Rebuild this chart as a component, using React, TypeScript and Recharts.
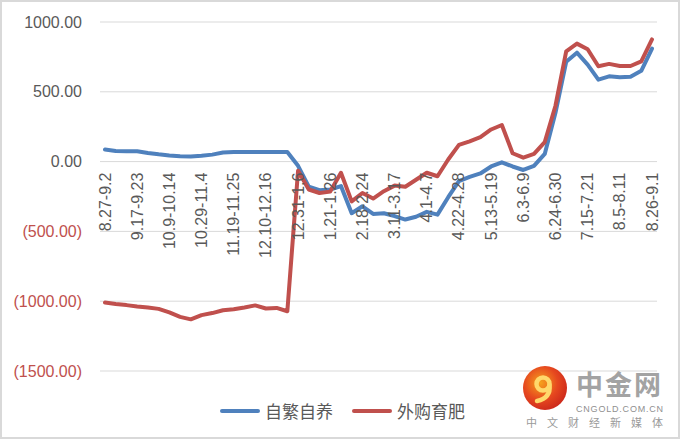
import React from 'react';
import { LineChart, Line, XAxis, YAxis, CartesianGrid, Legend } from 'recharts';

const weeks = [
  '8.27-9.2', '9.3-9.9', '9.10-9.16', '9.17-9.23', '9.24-9.30', '10.1-10.8',
  '10.9-10.14', '10.15-10.21', '10.22-10.28', '10.29-11.4', '11.5-11.11', '11.12-11.18',
  '11.19-11.25', '11.26-12.2', '12.3-12.9', '12.10-12.16', '12.17-12.23', '12.24-12.30',
  '12.31-1.6', '1.7-1.13', '1.14-1.20', '1.21-1.26', '1.27-2.2', '2.3-2.17',
  '2.18-2.24', '2.25-3.3', '3.4-3.10', '3.11-3.17', '3.18-3.24', '3.25-3.31',
  '4.1-4.7', '4.8-4.14', '4.15-4.21', '4.22-4.28', '4.29-5.5', '5.6-5.12',
  '5.13-5.19', '5.20-5.26', '5.27-6.2', '6.3-6.9', '6.10-6.16', '6.17-6.23',
  '6.24-6.30', '7.1-7.7', '7.8-7.14', '7.15-7.21', '7.22-7.28', '7.29-8.4',
  '8.5-8.11', '8.12-8.18', '8.19-8.25', '8.26-9.1',
];

const selfBred = [
  86, 76, 75, 74, 62, 52, 44, 38, 36, 42, 50, 65, 68, 68, 68, 68, 68, 68,
  -30, -180, -205, -200, -175, -370, -320, -375, -370, -390, -415, -395, -360, -380,
  -255, -140, -110, -85, -35, -5, -35, -60, -30, 55, 350, 715, 780, 695, 587, 611, 605, 608, 650, 810,
];

const purchased = [
  -1010, -1020, -1028, -1038, -1045, -1055, -1080, -1112, -1130, -1100, -1085, -1065, -1058, -1045, -1030, -1052, -1048, -1072,
  -65, -200, -225, -215, -80, -285, -225, -265, -212, -172, -180, -130, -80, -105,
  15, 120, 145, 175, 230, 262, 60, 28, 55, 140, 400, 790, 845, 805, 683, 700, 685, 685, 718, 875,
];

const seriesNames = ['自繁自养', '外购育肥'];
const seriesColors = ['#4F81BD', '#C0504D'];
const yTicks = [-1500, -1000, -500, 0, 500, 1000];
const yDomain = [-1500, 1000];

const data = weeks.map((w, i) => ({ week: w, selfBred: selfBred[i], purchased: purchased[i] }));

const W = 680;
const H = 439;
const M = { top: 22, right: 23, bottom: 67, left: 0 };
const X_AXIS_H = 1;
const PLOT_H = H - M.top - M.bottom - X_AXIS_H;
const zeroY = M.top + PLOT_H * (yDomain[1] / (yDomain[1] - yDomain[0]));

const fmt = (v: number) => (v < 0 ? `(${Math.abs(v).toFixed(2)})` : v.toFixed(2));

const YTick = (props: any) => {
  const { x, y, payload } = props;
  const v = payload.value as number;
  return (
    <text
      x={x}
      y={y}
      textAnchor="end"
      dominantBaseline="central"
      fill={v < 0 ? '#C0504D' : '#595959'}
      fontSize={16}
      fontFamily="Liberation Sans"
    >
      {fmt(v)}
    </text>
  );
};

const XTick = (props: any) => {
  const { x, payload } = props;
  return (
    <text
      x={0}
      y={0}
      transform={`translate(${x},${zeroY + 11}) rotate(-90)`}
      textAnchor="end"
      dominantBaseline="central"
      fill="#595959"
      fontSize={16}
      fontFamily="Liberation Sans"
    >
      {payload.value}
    </text>
  );
};

const LegendContent = () => (
  <div
    style={{
      display: 'flex',
      justifyContent: 'center',
      alignItems: 'center',
      gap: 19,
      fontFamily: '"Noto Sans CJK SC"',
      fontSize: 17,
      color: '#595959',
      paddingLeft: 5,
    }}
  >
    {seriesNames.map((n, i) => (
      <div key={n} style={{ display: 'flex', alignItems: 'center' }}>
        <div style={{ width: 40, height: 4, borderRadius: 2, background: seriesColors[i], marginRight: 5 }} />
        <span>{n}</span>
      </div>
    ))}
  </div>
);

export default function App() {
  return (
    <div style={{ position: 'fixed', left: 0, top: 0, width: W, height: H, background: '#fff' }}>
      <LineChart width={W} height={H} data={data} margin={M}>
        <CartesianGrid vertical={false} stroke="#D9D9D9" />
        <XAxis
          dataKey="week"
          interval={2}
          height={X_AXIS_H}
          axisLine={false}
          tickLine={false}
          padding={{ left: 5, right: 5 }}
          tick={XTick}
        />
        <YAxis
          width={100}
          domain={yDomain}
          ticks={yTicks}
          axisLine={false}
          tickLine={false}
          tickSize={0}
          tickMargin={18}
          tick={YTick}
          interval={0}
        />
        <Legend
          layout="horizontal"
          verticalAlign="middle"
          align="center"
          content={LegendContent}
          wrapperStyle={{ top: 398, left: 0, width: W }}
        />
        <Line
          type="linear"
          dataKey="selfBred"
          name={seriesNames[0]}
          stroke={seriesColors[0]}
          strokeWidth={4}
          dot={false}
          isAnimationActive={false}
          strokeLinejoin="round"
          strokeLinecap="round"
        />
        <Line
          type="linear"
          dataKey="purchased"
          name={seriesNames[1]}
          stroke={seriesColors[1]}
          strokeWidth={4}
          dot={false}
          isAnimationActive={false}
          strokeLinejoin="round"
          strokeLinecap="round"
        />
      </LineChart>

      <svg width={46} height={46} style={{ position: 'absolute', left: 522, top: 365 }}>
        <defs>
          <radialGradient id="logoGrad" cx="40%" cy="38%" r="70%">
            <stop offset="0" stopColor="#F6A11C" />
            <stop offset="0.55" stopColor="#E6481F" />
            <stop offset="1" stopColor="#C8241B" />
          </radialGradient>
        </defs>
        <circle cx={23} cy={23} r={22} fill="url(#logoGrad)" />
        <circle cx={21} cy={19} r={6.5} fill="none" stroke="#FFD86B" strokeWidth={4.5} />
        <path d="M27.5,20 Q29,33 15,36" fill="none" stroke="#FFD86B" strokeWidth={4.5} strokeLinecap="round" />
      </svg>
      <div
        style={{
          position: 'absolute',
          left: 576,
          top: 370,
          fontSize: 27,
          lineHeight: '27px',
          fontWeight: 700,
          letterSpacing: 2,
          color: '#A3A3A3',
          fontFamily: '"Noto Sans CJK SC"',
          whiteSpace: 'nowrap',
        }}
      >
        中金网
      </div>
      <div
        style={{
          position: 'absolute',
          left: 576,
          top: 404.5,
          fontSize: 9,
          lineHeight: '9px',
          letterSpacing: 0.8,
          color: '#8F8F8F',
          fontFamily: 'Liberation Sans',
          whiteSpace: 'nowrap',
        }}
      >
        CNGOLD.COM.CN
      </div>
      <div
        style={{
          position: 'absolute',
          left: 526,
          top: 417,
          fontSize: 11,
          lineHeight: '11px',
          letterSpacing: 10,
          color: '#9A9A9A',
          fontFamily: '"Noto Sans CJK SC"',
          whiteSpace: 'nowrap',
        }}
      >
        中文财经新媒体
      </div>
      <div
        style={{
          position: 'absolute',
          left: 0,
          top: 0,
          width: W,
          height: H,
          boxSizing: 'border-box',
          border: '2px solid #D9D9D9',
          pointerEvents: 'none',
        }}
      />
    </div>
  );
}
